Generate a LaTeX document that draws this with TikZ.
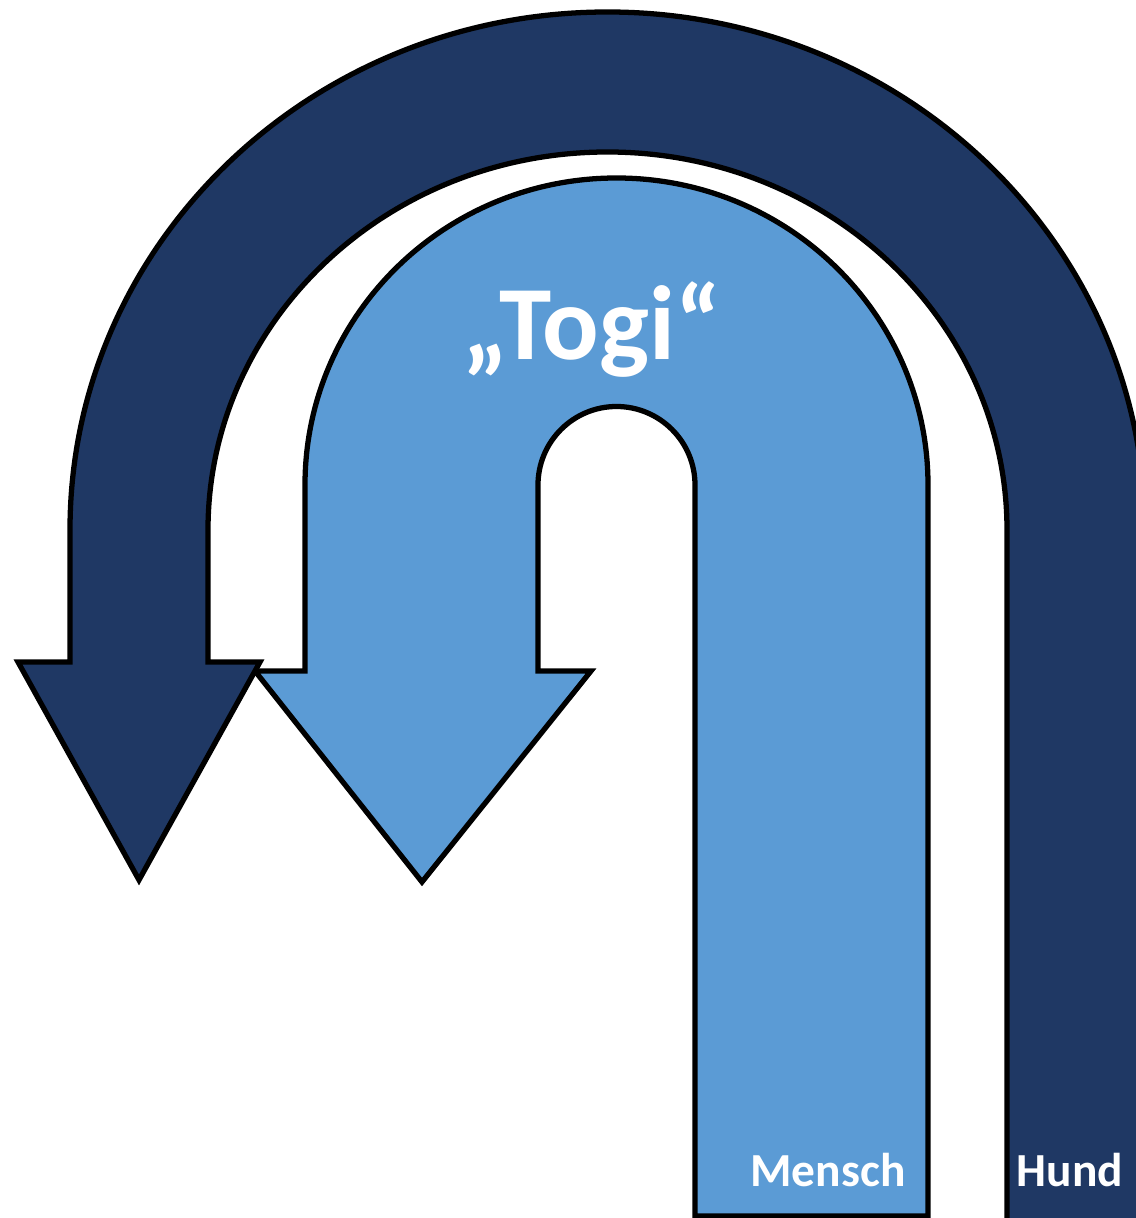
\documentclass[tikz,border=0pt]{standalone}
\usepackage{fontspec}
\setmainfont{Carlito}
\usepackage{tikz}
\usepackage{xcolor}
\definecolor{hundblue}{RGB}{31,56,100}
\definecolor{menschblue}{RGB}{91,155,213}

\begin{document}
\begin{tikzpicture}[x=0.02cm,y=0.02cm,line join=miter,
    uturn/.style={draw=black,line width=3pt},
    lbl/.style={text=white,font=\bfseries\fontsize{27}{30}\selectfont,inner sep=0pt}]
  \clip (0,0) rectangle (1136,1218);
  \draw[uturn,fill=menschblue] (928,2) -- (928,733)
    arc[start angle=0,end angle=180,x radius=311.5,y radius=307]
    -- (305,547) -- (255,547) -- (422,336) -- (591,547) -- (538,547) -- (538,733)
    arc[start angle=180,end angle=0,radius=78.5]
    -- (695,2) -- cycle;
  \draw[uturn,fill=hundblue] (1145,-20) -- (1145,688)
    arc[start angle=0,end angle=180,x radius=537.5,y radius=518]
    -- (70,556) -- (18,556) -- (139,338) -- (260,556) -- (208,556) -- (208,688)
    arc[start angle=180,end angle=0,x radius=399.5,y radius=378]
    -- (1007,-20) -- cycle;
  \node[text=white,font=\bfseries\fontsize{60}{66}\selectfont] (togi) at (592,888) {„Togi“};
  \node[lbl] (mensch) at (828,48) {Mensch};
  \node[lbl] (hund) at (1070,48) {Hund};
\end{tikzpicture}
\end{document}
